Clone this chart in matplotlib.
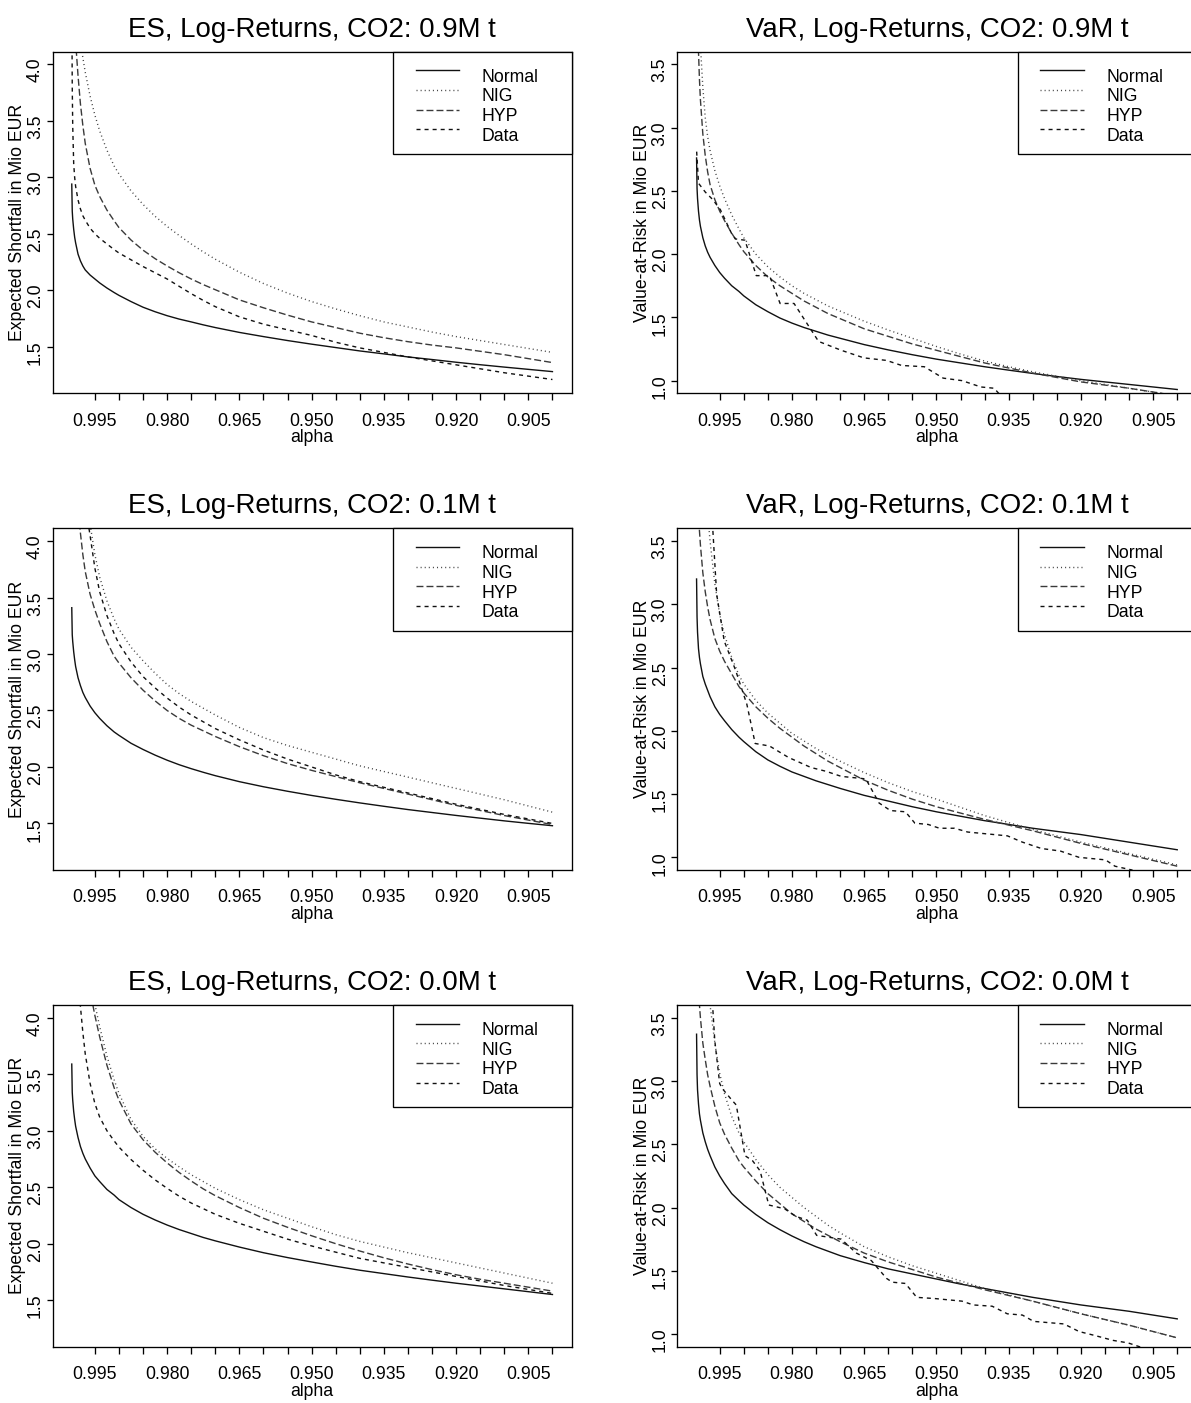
import numpy as np
import matplotlib
matplotlib.use('Agg')
import matplotlib.pyplot as plt
import matplotlib.transforms as mtransforms
from matplotlib.lines import Line2D
from matplotlib.patches import Rectangle

plt.rcParams['font.family'] = ['Liberation Sans', 'DejaVu Sans']

W, H = 1191, 1403

# alpha grid of the smooth curves (denser near 1, where they bend)
ALPHA = [0.9998, 0.9997, 0.9996, 0.9994, 0.9992, 0.999, 0.9985, 0.998, 0.9975, 0.997,
         0.996, 0.995, 0.994, 0.9925, 0.991, 0.990, 0.9875, 0.985, 0.9825, 0.980,
         0.9775, 0.975, 0.9725, 0.970, 0.965, 0.960, 0.955, 0.950, 0.945, 0.940,
         0.935, 0.930, 0.925, 0.920, 0.915, 0.910, 0.905, 0.900]

# --- Expected Shortfall, CO2 0.9M t
es1_normal = [2.94, 2.70, 2.63, 2.54, 2.47, 2.42, 2.32, 2.26, 2.215, 2.18, 2.135, 2.10, 2.065, 2.02, 1.98, 1.955, 1.90, 1.85, 1.81,
              1.775, 1.745, 1.72, 1.694, 1.67, 1.627, 1.59, 1.555, 1.523, 1.493, 1.463, 1.437, 1.41, 1.387, 1.363, 1.341, 1.32, 1.30, 1.28]
es1_nig = [6.2, 5.7, 5.3, 4.95, 4.75, 4.6, 4.38, 4.2, 4.06, 3.93, 3.72, 3.55, 3.41, 3.24, 3.10, 3.03, 2.88, 2.76, 2.655,
           2.565, 2.485, 2.41, 2.34, 2.275, 2.16, 2.06, 1.975, 1.90, 1.835, 1.775, 1.72, 1.675, 1.63, 1.59, 1.555, 1.52, 1.485, 1.45]
es1_hyp = [5.6, 5.2, 4.9, 4.55, 4.35, 4.2, 3.9, 3.65, 3.46, 3.3, 3.08, 2.93, 2.83, 2.71, 2.615, 2.555, 2.445, 2.355, 2.28,
           2.215, 2.155, 2.10, 2.05, 2.005, 1.915, 1.845, 1.78, 1.72, 1.67, 1.62, 1.58, 1.545, 1.515, 1.49, 1.46, 1.43, 1.395, 1.36]
es1_data = [4.6, 3.8, 3.45, 3.12, 3.0, 2.92, 2.80, 2.72, 2.66, 2.62, 2.55, 2.50, 2.46, 2.41, 2.36, 2.33, 2.27, 2.21, 2.155,
            2.10, 2.035, 1.97, 1.91, 1.855, 1.765, 1.70, 1.65, 1.60, 1.54, 1.49, 1.45, 1.41, 1.375, 1.34, 1.305, 1.27, 1.24, 1.21]

# --- Expected Shortfall, CO2 0.1M t
es2_normal = [3.41, 3.17, 3.11, 3.02, 2.95, 2.89, 2.79, 2.72, 2.66, 2.615, 2.54, 2.48, 2.43, 2.365, 2.31, 2.28, 2.21, 2.155, 2.105,
              2.06, 2.02, 1.985, 1.953, 1.923, 1.87, 1.825, 1.785, 1.748, 1.714, 1.682, 1.652, 1.623, 1.597, 1.571, 1.547, 1.523, 1.501, 1.48]
es2_nig = [7.0, 6.5, 6.2, 5.8, 5.5, 5.3, 4.95, 4.7, 4.5, 4.35, 4.15, 3.88, 3.68, 3.47, 3.31, 3.22, 3.06, 2.94, 2.83,
           2.73, 2.65, 2.58, 2.52, 2.46, 2.35, 2.26, 2.19, 2.13, 2.07, 2.01, 1.96, 1.91, 1.86, 1.81, 1.76, 1.71, 1.655, 1.60]
es2_hyp = [5.4, 5.2, 5.05, 4.85, 4.7, 4.55, 4.30, 4.07, 3.88, 3.73, 3.53, 3.39, 3.27, 3.11, 2.98, 2.92, 2.79, 2.68, 2.585,
           2.50, 2.43, 2.37, 2.32, 2.27, 2.18, 2.10, 2.03, 1.97, 1.915, 1.86, 1.81, 1.76, 1.71, 1.66, 1.615, 1.57, 1.53, 1.49]
es2_data = [6.1, 5.8, 5.6, 5.35, 5.15, 5.0, 4.78, 4.6, 4.45, 4.32, 4.05, 3.76, 3.55, 3.34, 3.18, 3.09, 2.93, 2.80, 2.70,
            2.61, 2.53, 2.46, 2.40, 2.34, 2.24, 2.15, 2.07, 2.00, 1.93, 1.87, 1.82, 1.77, 1.72, 1.67, 1.625, 1.58, 1.54, 1.50]

# --- Expected Shortfall, CO2 0.0M t
es3_normal = [3.59, 3.34, 3.27, 3.17, 3.10, 3.04, 2.94, 2.86, 2.80, 2.75, 2.67, 2.60, 2.55, 2.48, 2.43, 2.39, 2.32, 2.26, 2.21,
              2.165, 2.125, 2.09, 2.055, 2.025, 1.97, 1.92, 1.877, 1.838, 1.80, 1.765, 1.735, 1.705, 1.677, 1.65, 1.625, 1.60, 1.575, 1.55]
es3_nig = [8.5, 8.0, 7.5, 7.0, 6.6, 6.2, 5.6, 5.2, 4.95, 4.75, 4.42, 4.12, 3.92, 3.66, 3.45, 3.33, 3.10, 2.95, 2.84,
           2.755, 2.68, 2.61, 2.55, 2.49, 2.39, 2.30, 2.225, 2.15, 2.08, 2.02, 1.97, 1.92, 1.875, 1.83, 1.785, 1.74, 1.695, 1.65]
es3_hyp = [8.0, 7.5, 7.0, 6.5, 6.1, 5.8, 5.3, 4.95, 4.7, 4.5, 4.24, 4.02, 3.83, 3.58, 3.38, 3.27, 3.06, 2.92, 2.81,
           2.715, 2.63, 2.555, 2.485, 2.425, 2.32, 2.225, 2.145, 2.07, 2.0, 1.935, 1.875, 1.82, 1.77, 1.725, 1.685, 1.65, 1.615, 1.58]
es3_data = [5.7, 5.5, 5.35, 5.1, 4.9, 4.75, 4.40, 4.10, 3.87, 3.68, 3.42, 3.24, 3.12, 3.0, 2.91, 2.855, 2.745, 2.65, 2.565,
            2.49, 2.42, 2.36, 2.31, 2.26, 2.18, 2.11, 2.04, 1.98, 1.925, 1.87, 1.83, 1.79, 1.75, 1.71, 1.67, 1.63, 1.595, 1.56]

# --- Value-at-Risk, CO2 0.9M t
var1_normal = [2.76, 2.52, 2.44, 2.34, 2.27, 2.22, 2.13, 2.065, 2.015, 1.975, 1.91, 1.855, 1.81, 1.75, 1.705, 1.67, 1.60, 1.545, 1.495,
               1.455, 1.42, 1.39, 1.36, 1.335, 1.285, 1.243, 1.205, 1.17, 1.14, 1.11, 1.083, 1.057, 1.033, 1.01, 0.99, 0.97, 0.95, 0.93]
var1_nig = [5.5, 4.9, 4.5, 4.0, 3.8, 3.65, 3.32, 3.08, 2.93, 2.82, 2.66, 2.54, 2.44, 2.31, 2.20, 2.13, 2.00, 1.90, 1.82,
            1.75, 1.69, 1.64, 1.59, 1.55, 1.47, 1.40, 1.335, 1.27, 1.21, 1.155, 1.11, 1.07, 1.035, 1.00, 0.97, 0.94, 0.91, 0.88]
var1_hyp = [4.8, 4.3, 4.0, 3.6, 3.38, 3.22, 2.95, 2.78, 2.65, 2.55, 2.43, 2.34, 2.265, 2.165, 2.075, 2.02, 1.91, 1.82, 1.75,
            1.69, 1.63, 1.58, 1.53, 1.49, 1.41, 1.35, 1.29, 1.24, 1.19, 1.14, 1.10, 1.06, 1.025, 0.99, 0.965, 0.94, 0.91, 0.88]
var1_data_alpha = [0.99978, 0.99939, 0.99798, 0.99641, 0.99484, 0.99249, 0.9917, 0.98975, 0.9874, 0.98465, 0.98246,
                   0.97956, 0.97447, 0.96976, 0.96506, 0.96036, 0.95722, 0.95252, 0.94860, 0.94468, 0.94076, 0.93802, 0.93684]
var1_data = [2.81, 2.56, 2.49, 2.43, 2.35, 2.16, 2.12, 2.11, 1.83, 1.83, 1.61, 1.61, 1.31, 1.24, 1.18, 1.16, 1.12, 1.11,
             1.02, 1.00, 0.95, 0.94, 0.89]

# --- Value-at-Risk, CO2 0.1M t
var2_normal = [3.20, 2.90, 2.78, 2.65, 2.58, 2.53, 2.43, 2.37, 2.32, 2.27, 2.19, 2.13, 2.08, 2.01, 1.95, 1.915, 1.835, 1.77, 1.72,
               1.675, 1.64, 1.605, 1.575, 1.545, 1.49, 1.445, 1.40, 1.36, 1.325, 1.29, 1.26, 1.23, 1.205, 1.18, 1.15, 1.12, 1.09, 1.06]
var2_nig = [5.0, 4.9, 4.8, 4.65, 4.55, 4.45, 4.2, 3.95, 3.72, 3.5, 3.16, 2.92, 2.76, 2.58, 2.44, 2.37, 2.24, 2.14, 2.06,
            1.98, 1.92, 1.86, 1.81, 1.76, 1.67, 1.59, 1.52, 1.46, 1.395, 1.33, 1.275, 1.22, 1.17, 1.12, 1.075, 1.03, 0.985, 0.94]
var2_hyp = [4.3, 4.1, 3.95, 3.72, 3.58, 3.47, 3.25, 3.10, 2.98, 2.88, 2.73, 2.63, 2.55, 2.45, 2.35, 2.30, 2.19, 2.10, 2.02,
            1.95, 1.88, 1.82, 1.76, 1.71, 1.61, 1.53, 1.46, 1.40, 1.35, 1.30, 1.255, 1.21, 1.16, 1.11, 1.065, 1.02, 0.975, 0.93]
var2_data_alpha = [0.99641, 0.99563, 0.99406, 0.99171, 0.98936, 0.98763, 0.98465, 0.98073, 0.97603, 0.97290, 0.96976,
                   0.96466, 0.96192, 0.95956, 0.95643, 0.95447, 0.95172, 0.94937, 0.94624, 0.94350, 0.93527, 0.93213,
                   0.92821, 0.92429, 0.92038, 0.91489, 0.91293, 0.90940, 0.9086]
var2_data = [3.58, 3.08, 2.71, 2.48, 2.21, 1.90, 1.88, 1.79, 1.71, 1.68, 1.64, 1.62, 1.43, 1.37, 1.36, 1.27, 1.26,
             1.23, 1.23, 1.20, 1.17, 1.12, 1.07, 1.05, 1.00, 0.98, 0.93, 0.90, 0.87]

# --- Value-at-Risk, CO2 0.0M t
var3_normal = [3.37, 3.05, 2.93, 2.82, 2.74, 2.69, 2.59, 2.52, 2.46, 2.41, 2.32, 2.25, 2.19, 2.11, 2.055, 2.02, 1.945, 1.88, 1.825,
               1.775, 1.73, 1.69, 1.655, 1.62, 1.565, 1.515, 1.475, 1.435, 1.395, 1.36, 1.325, 1.29, 1.26, 1.23, 1.205, 1.18, 1.15, 1.12]
var3_nig = [6.0, 5.6, 5.3, 4.9, 4.65, 4.45, 4.15, 3.93, 3.75, 3.60, 3.30, 3.06, 2.90, 2.72, 2.59, 2.52, 2.38, 2.26, 2.16,
            2.08, 2.00, 1.93, 1.86, 1.80, 1.69, 1.61, 1.54, 1.48, 1.42, 1.36, 1.31, 1.26, 1.21, 1.16, 1.115, 1.07, 1.02, 0.97]
var3_hyp = [4.5, 4.2, 4.0, 3.75, 3.6, 3.5, 3.3, 3.17, 3.05, 2.96, 2.80, 2.67, 2.58, 2.47, 2.37, 2.32, 2.21, 2.11, 2.03,
            1.95, 1.89, 1.83, 1.78, 1.73, 1.64, 1.57, 1.51, 1.45, 1.40, 1.35, 1.305, 1.26, 1.21, 1.16, 1.115, 1.07, 1.02, 0.97]
var3_data_alpha = [0.99641, 0.99602, 0.99500, 0.99445, 0.99249, 0.99155, 0.98975, 0.98818, 0.98661, 0.98481, 0.98152,
                   0.97917, 0.97682, 0.97486, 0.96976, 0.96663, 0.96350, 0.96036, 0.95918, 0.95644, 0.95409, 0.95017,
                   0.94469, 0.94233, 0.93842, 0.93528, 0.93215, 0.92980, 0.92353, 0.92039, 0.91726, 0.91334, 0.91020, 0.90707]
var3_data = [3.56, 3.32, 2.98, 2.94, 2.85, 2.81, 2.41, 2.37, 2.29, 2.02, 1.99, 1.93, 1.90, 1.78, 1.75, 1.64, 1.58,
             1.44, 1.41, 1.40, 1.29, 1.28, 1.26, 1.23, 1.22, 1.16, 1.15, 1.10, 1.08, 1.02, 0.99, 0.95, 0.93, 0.89]

CO2 = ['0.9', '0.1', '0.0']
ES_ROWS = [(es1_normal, es1_nig, es1_hyp, ALPHA, es1_data),
           (es2_normal, es2_nig, es2_hyp, ALPHA, es2_data),
           (es3_normal, es3_nig, es3_hyp, ALPHA, es3_data)]
VAR_ROWS = [(var1_normal, var1_nig, var1_hyp, var1_data_alpha, var1_data),
            (var2_normal, var2_nig, var2_hyp, var2_data_alpha, var2_data),
            (var3_normal, var3_nig, var3_hyp, var3_data_alpha, var3_data)]

NAMES = ['Normal', 'NIG', 'HYP', 'Data']
STYLES = [dict(color='#111111', linestyle='-'),
          dict(color='#444444', linestyle=(0, (0.75, 2.2))),
          dict(color='#3a3a3a', linestyle=(0, (5.0, 2.2))),
          dict(color='#111111', linestyle=(0, (2.9, 2.9)))]
LW = 1.0
FS = 12.7

# layout in pixels
LEFTS = [52.5, 677.3]
TOPS = [51.7, 528.4, 1005.1]
BW, BH = 519.2, 341.6

fig = plt.figure(figsize=(W / 100, H / 100), dpi=100)
PIX = mtransforms.Affine2D().scale(1 / W, -1 / H).translate(0, 1) + fig.transFigure

xticks = [round(0.995 - 0.005 * i, 3) for i in range(20)]
xlabels = [f'{v:.3f}' if i % 3 == 0 else '' for i, v in enumerate(xticks)]


def panel(col, row, curves, ylim, yticks, title, ylabel):
    left, top = LEFTS[col], TOPS[row]
    ax = fig.add_axes([left / W, 1 - (top + BH) / H, BW / W, BH / H])
    normal, nig, hyp, d_alpha, d_vals = curves
    for vals, st in zip([normal, nig, hyp], STYLES[:3]):
        ax.plot(ALPHA, vals, lw=LW, **st)
    ax.plot(d_alpha, d_vals, lw=LW, **STYLES[3])
    ax.set_xlim(1.0038, 0.896)
    ax.set_ylim(*ylim)
    ax.set_xticks(xticks)
    ax.set_xticklabels(xlabels)
    ax.set_yticks(yticks)
    ax.set_yticklabels([f'{v:.1f}' for v in yticks])
    ax.tick_params(axis='x', length=4.8, width=0.95, pad=9.2, labelsize=FS)
    ax.tick_params(axis='y', length=4.5, width=0.95, pad=1.7, labelsize=FS, labelrotation=90)
    for sp in ax.spines.values():
        sp.set_linewidth(0.95)

    cx = left + BW / 2
    fig.text(cx, top - 15, title, transform=PIX, ha='center', va='baseline', fontsize=19.9)
    fig.text(cx, top + BH + 49, 'alpha', transform=PIX, ha='center', va='baseline', fontsize=FS)
    fig.text(left - 30, top + BH / 2, ylabel, transform=PIX, ha='center', va='baseline',
             rotation=90, rotation_mode='anchor', fontsize=FS)

    # legend box (top right, R style)
    lx0 = left + BW - 179
    fig.add_artist(Rectangle((lx0, top), 179, 102.3, transform=PIX, facecolor='white',
                             edgecolor='black', lw=0.95, zorder=5))
    for i, (name, st) in enumerate(zip(NAMES, STYLES)):
        ly = top + 18.5 + i * 19.7
        fig.add_artist(Line2D([lx0 + 22.8, lx0 + 66.6], [ly, ly], transform=PIX, lw=LW, zorder=6, **st))
        fig.text(lx0 + 89, ly + 11.3, name, transform=PIX, ha='left', va='baseline', fontsize=FS, zorder=6)
    return ax


for r in range(3):
    panel(0, r, ES_ROWS[r], (1.088, 4.112), [1.5, 2.0, 2.5, 3.0, 3.5, 4.0],
          f'ES, Log-Returns, CO2: {CO2[r]}M t', 'Expected Shortfall in Mio EUR')
    panel(1, r, VAR_ROWS[r], (0.9, 3.6), [1.0, 1.5, 2.0, 2.5, 3.0, 3.5],
          f'VaR, Log-Returns, CO2: {CO2[r]}M t', 'Value-at-Risk in Mio EUR')

fig.savefig('out.png', dpi=100, facecolor='white')
